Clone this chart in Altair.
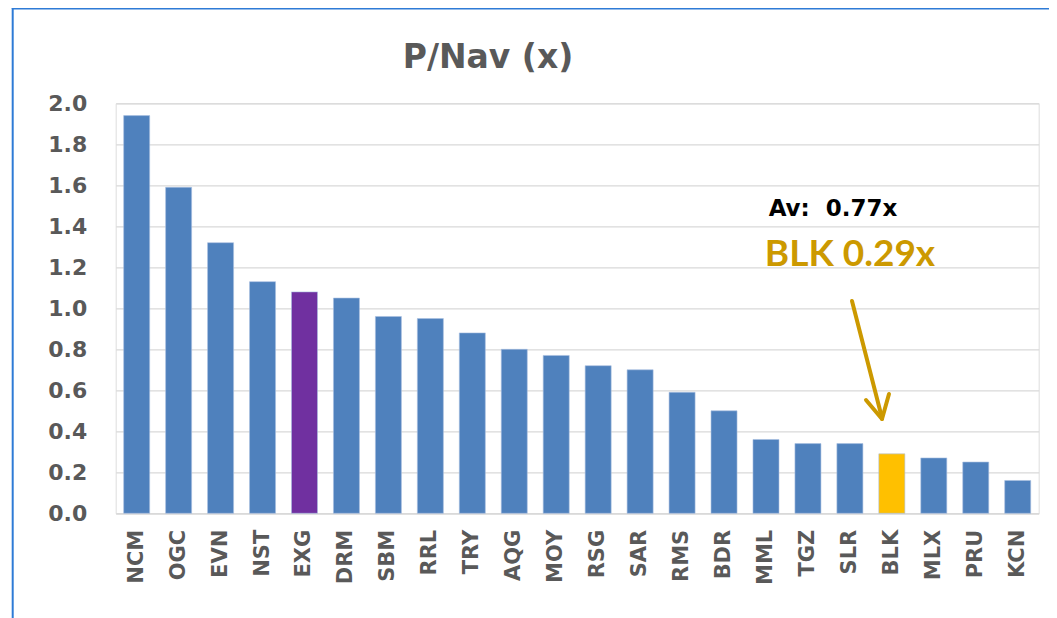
import altair as alt
import pandas as pd

tickers = ["NCM", "OGC", "EVN", "NST", "EXG", "DRM", "SBM", "RRL", "TRY", "AQG", "MOY",
           "RSG", "SAR", "RMS", "BDR", "MML", "TGZ", "SLR", "BLK", "MLX", "PRU", "KCN"]
p_nav = [1.94, 1.59, 1.32, 1.13, 1.08, 1.05, 0.96, 0.95, 0.88, 0.80, 0.77,
         0.72, 0.70, 0.59, 0.50, 0.36, 0.34, 0.34, 0.29, 0.27, 0.25, 0.16]
highlight = {"EXG": "#7030A0", "BLK": "#FFC000"}
base_color = "#4F81BD"
y_ticks = [0.0, 0.2, 0.4, 0.6, 0.8, 1.0, 1.2, 1.4, 1.6, 1.8, 2.0]
title_text = "P/Nav (x)"
avg_label = "Av:\u00a0 0.77x"
blk_label = "BLK 0.29x"

df = pd.DataFrame({
    "ticker": tickers,
    "value": p_nav,
    "color": [highlight.get(t, base_color) for t in tickers],
})
one = pd.DataFrame({"k": [0]})

W, H = 923, 410
gold = "#CC9900"
gray = "#595959"
ox, oy = 115.7, 103.3

bars = alt.Chart(df).mark_bar(stroke="#A9C0E0", strokeWidth=0.6).encode(
    x=alt.X("ticker:N", sort=tickers,
            scale=alt.Scale(paddingInner=0.38, paddingOuter=0.19),
            axis=alt.Axis(title=None, labelAngle=-90, labelFontSize=21,
                          labelFont="DejaVu Sans", labelFontWeight="bold",
                          labelColor=gray, ticks=False, labelPadding=16,
                          domainColor="#D9D9D9", domainWidth=1.2, grid=False)),
    y=alt.Y("value:Q", scale=alt.Scale(domain=[0, 2.0], nice=False),
            axis=alt.Axis(title=None, values=y_ticks, format=".1f",
                          labelFontSize=22, labelFont="DejaVu Sans",
                          labelFontWeight="bold", labelColor=gray,
                          ticks=False, domain=False, labelPadding=29,
                          grid=True, gridColor="#D9D9D9", gridWidth=1.2)),
    color=alt.Color("color:N", scale=None),
)

def text(label, x, y, size, color, font, anchor="center"):
    return alt.Chart(one).mark_text(
        text=label, font=font, fontWeight="bold", fontSize=size,
        color=color, align=anchor, baseline="alphabetic"
    ).encode(x=alt.value(x - ox), y=alt.value(y - oy))

title = text(title_text, 488, 68, 33, gray, "DejaVu Sans")
av_text = text(avg_label, 833, 216, 23, "black", "DejaVu Sans")
blk_text = text(blk_label, 850, 266, 37, gold, "Lato")

def seg(x1, y1, x2, y2, color, width):
    return alt.Chart(one).mark_rule(color=color, strokeWidth=width, strokeCap="round").encode(
        x=alt.value(x1 - ox), y=alt.value(y1 - oy),
        x2=alt.value(x2 - ox), y2=alt.value(y2 - oy))

arrow = [
    seg(852, 301, 882, 418, gold, 4),
    seg(866, 400, 882, 419, gold, 4),
    seg(889, 394, 882, 419, gold, 4),
]

border_color = "#2E7BD6"
border = [
    seg(12.7, 8.5, 12.7, 640, border_color, 2),
    seg(12.7, 8.5, 1057, 8.5, border_color, 2),
]

chart = alt.layer(bars, title, av_text, blk_text, *arrow, *border).properties(
    width=W, height=H,
    autosize=alt.AutoSizeParams(type="none"),
    padding={"left": 107.7, "top": 95.3, "right": 10, "bottom": 110},
).configure_view(stroke=None).configure(background="white")

chart.save("out.html", embed_options={"renderer": "svg", "actions": False})
